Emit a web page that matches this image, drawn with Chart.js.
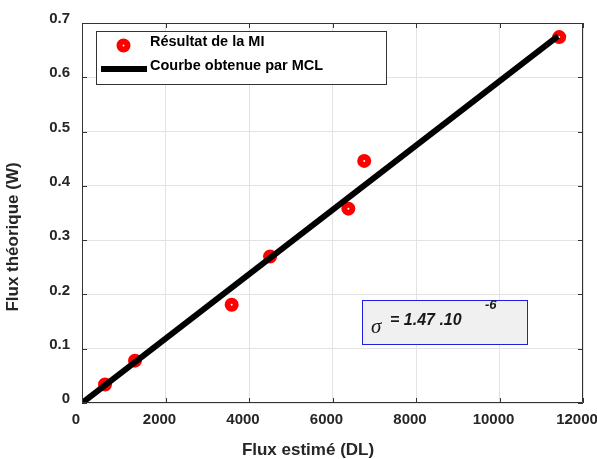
<!DOCTYPE html>
<html>
<head>
<meta charset="utf-8">
<script src="https://cdn.jsdelivr.net/npm/chart.js@4.4.0/dist/chart.umd.min.js"></script>
<style>
html, body { margin: 0; padding: 0; background: #fff; }
#wrap { width: 597px; height: 459px; }
</style>
</head>
<body>
<div id="wrap"><canvas id="flux" width="597" height="459"></canvas></div>
<script>
// Données
const fluxEstime = [551, 1270, 3585, 4505, 6380, 6760, 11430]
const fluxTheorique = [0.034, 0.078, 0.181, 0.270, 0.358, 0.446, 0.674]
const fitX = [0, 11400]
const fitY = [0, 0.676]
const xTicks = [0, 2000, 4000, 6000, 8000, 10000, 12000]
const yTicks = [0, 0.1, 0.2, 0.3, 0.4, 0.5, 0.6, 0.7]
const legendLabels = ['Résultat de la MI', 'Courbe obtenue par MCL']
const sigmaText = '= 1.47 .10'
const sigmaExp = '-6'

const FONT = "'Liberation Sans', Arial, sans-serif"
const AXIS_COLOR = '#333333'

const pointsMI = fluxEstime.map((x, i) => ({ x: x, y: fluxTheorique[i] }))
const pointsMCL = fitX.map((x, i) => ({ x: x, y: fitY[i] }))

// cadre, graduations intérieures, légende, titres et boîte sigma
const decorPlugin = {
	id: 'decor',
	afterDraw(chart) {
		const c = chart.ctx
		const a = chart.chartArea
		const xs = chart.scales.x
		const ys = chart.scales.y
		c.save()
		c.strokeStyle = AXIS_COLOR
		c.lineWidth = 1
		c.beginPath()
		c.rect(a.left + 0.5, a.top + 0.5, a.right - a.left - 1, a.bottom - a.top - 1)
		c.stroke()
		c.beginPath()
		xTicks.forEach(v => {
			const px = Math.round(xs.getPixelForValue(v)) + 0.5
			c.moveTo(px, a.bottom); c.lineTo(px, a.bottom - 5)
			c.moveTo(px, a.top); c.lineTo(px, a.top + 5)
		})
		yTicks.forEach(v => {
			const py = Math.round(ys.getPixelForValue(v)) + 0.5
			c.moveTo(a.left, py); c.lineTo(a.left + 5, py)
			c.moveTo(a.right, py); c.lineTo(a.right - 5, py)
		})
		c.stroke()

		// légende
		c.fillStyle = '#ffffff'
		c.fillRect(96, 31, 290, 53)
		c.strokeStyle = AXIS_COLOR
		c.strokeRect(96.5, 31.5, 290, 53)
		c.beginPath()
		c.arc(123.5, 45.5, 4, 0, Math.PI * 2)
		c.strokeStyle = 'red'
		c.lineWidth = 6
		c.stroke()
		c.fillStyle = '#000'
		c.fillRect(101, 66, 46, 6)
		c.font = 'bold 14.5px ' + FONT
		c.textBaseline = 'middle'
		c.textAlign = 'left'
		c.fillText(legendLabels[0], 150, 42)
		c.fillText(legendLabels[1], 150, 66)

		// boîte sigma
		c.fillStyle = '#f0f0f0'
		c.fillRect(362.5, 300.5, 165, 44)
		c.strokeStyle = '#1f1fe0'
		c.lineWidth = 1
		c.strokeRect(362.5, 300.5, 165, 44)
		c.fillStyle = '#1a1a1a'
		c.font = "italic 21px 'Liberation Serif', 'DejaVu Serif', serif"
		c.textBaseline = 'alphabetic'
		c.fillText('σ', 371, 333)
		c.font = 'italic bold 16px ' + FONT
		c.fillText(sigmaText, 390, 325)
		c.font = 'italic bold 13px ' + FONT
		c.fillText(sigmaExp, 485, 309)

		// titres des axes
		c.fillStyle = '#262626'
		c.font = 'bold 17px ' + FONT
		c.textAlign = 'center'
		c.textBaseline = 'middle'
		c.fillText('Flux estimé (DL)', 308, 450)
		c.translate(13, 237)
		c.rotate(-Math.PI / 2)
		c.fillText('Flux théorique (W)', 0, 0)
		c.restore()
	}
}

const configFlux = {
	type: 'scatter',
	data: {
		datasets: [{
			label: legendLabels[1],
			type: 'line',
			data: pointsMCL,
			borderColor: '#000',
			borderWidth: 6,
			pointRadius: 0,
			fill: false,
			order: 0
		}, {
			label: legendLabels[0],
			data: pointsMI,
			pointRadius: 4,
			pointBorderWidth: 6,
			borderColor: 'red',
			backgroundColor: '#fff',
			order: 1
		}]
	},
	options: {
		responsive: false,
		animation: false,
		layout: { padding: { top: 23, right: 14, left: 0, bottom: 0 } },
		plugins: {
			legend: { display: false },
			tooltip: { enabled: false }
		},
		scales: {
			x: {
				type: 'linear',
				min: 0,
				max: 12000,
				afterFit(s) {
					s.height = 56
					s.paddingLeft = 0
					s.paddingRight = 0
				},
				afterBuildTicks(s) { s.ticks = xTicks.map(v => ({ value: v })) },
				grid: { color: '#e3e3e3', drawTicks: false },
				border: { display: false },
				ticks: {
					padding: 8,
					labelOffset: -6,
					color: '#262626',
					font: { family: FONT, size: 15, weight: 'bold' },
					callback: v => String(v)
				}
			},
			y: {
				type: 'linear',
				min: 0,
				max: 0.7,
				afterFit(s) {
					s.width = 82
					s.paddingTop = 0
					s.paddingBottom = 0
				},
				afterBuildTicks(s) { s.ticks = yTicks.map(v => ({ value: v })) },
				grid: { color: '#e3e3e3', drawTicks: false },
				border: { display: false },
				ticks: {
					padding: 12,
					labelOffset: -4,
					color: '#262626',
					font: { family: FONT, size: 15, weight: 'bold' },
					callback: v => v === 0 ? '0' : v.toFixed(1)
				}
			}
		}
	},
	plugins: [decorPlugin]
}

const fluxChart = new Chart(document.getElementById('flux').getContext('2d'), configFlux)
</script>
</body>
</html>
